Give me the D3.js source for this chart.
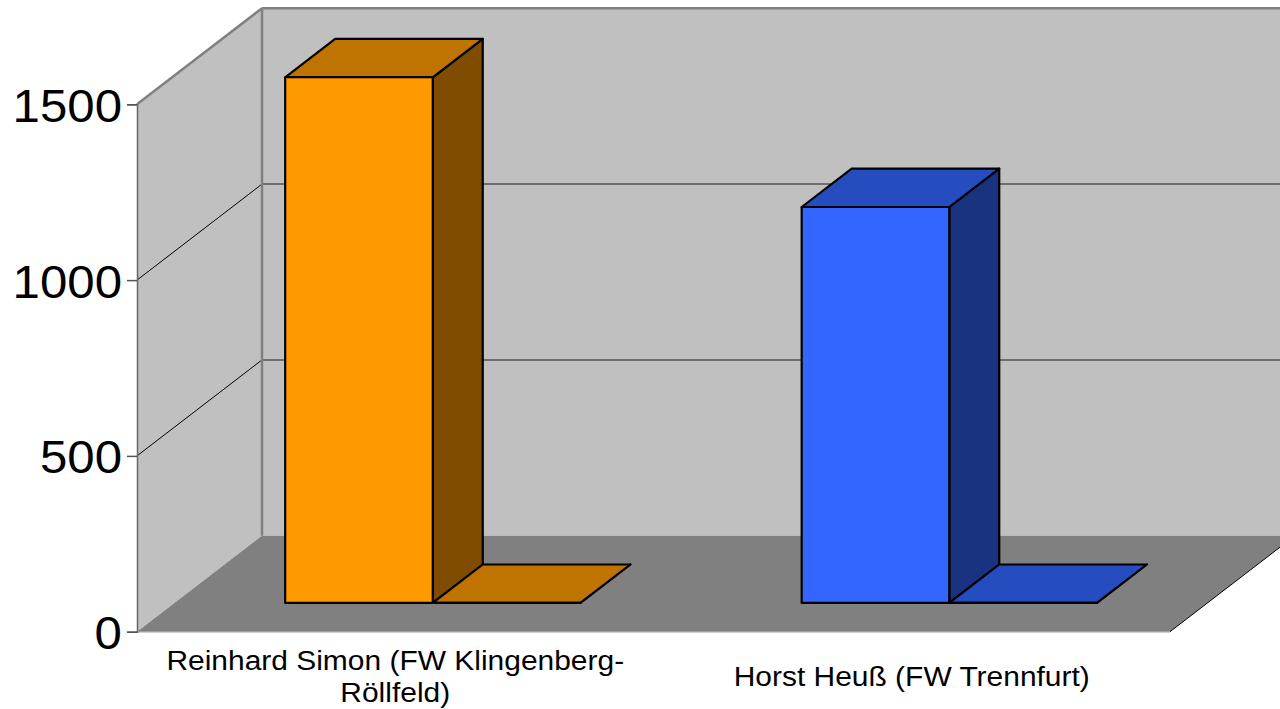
<!DOCTYPE html>
<html>
<head>
<meta charset="utf-8">
<script src="https://cdn.jsdelivr.net/npm/d3@7"></script>
<style>
  html, body { margin: 0; padding: 0; background: #ffffff; }
  svg { display: block; }
  text { font-family: "Liberation Sans", Arial, sans-serif; fill: #000; }
</style>
</head>
<body>
<svg id="chart" width="1280" height="709"></svg>
<script>
// Candidates and their vote counts (second series is empty for both)
const categories = ["Reinhard Simon (FW Klingenberg-Röllfeld)", "Horst Heuß (FW Trennfurt)"];
const seriesNames = ["Stimmen", "Reserve"];
const seriesA = [1495, 1126];
const seriesB = [0, 0];
const yTicks = [0, 500, 1000, 1500];
const frontColors = ["#FF9900", "#3366FF"];

// Layout of the oblique 3D box
const left = 137, right = 1170, floorY = 631.7, topY = 104.3;
const depthX = 125, depthY = 96;
const textStretch = 1.07;

const svg = d3.select("#chart");

const x = d3.scaleBand().domain(categories).range([left, right]);
const xSub = d3.scaleBand().domain(seriesNames).range([0, x.bandwidth()]).paddingOuter(0.75);
const y = d3.scaleLinear().domain([0, 1500]).range([floorY, topY]);
const z = d3.scaleBand().domain(["row"]).range([0, 1]).paddingOuter(0.75);

const proj = (px, py, d) => [px + d * depthX, py - d * depthY];
const poly = pts => pts.map(p => p.join(",")).join(" ");

// Walls and floor
const g = svg.append("g");
g.append("polygon")
  .attr("points", poly([proj(left, topY, 1), proj(right, topY, 1), proj(right, floorY, 1), proj(left, floorY, 1)]))
  .attr("fill", "#C0C0C0");
g.append("polygon")
  .attr("points", poly([proj(left, floorY, 0), proj(left, topY, 0), proj(left, topY, 1), proj(left, floorY, 1)]))
  .attr("fill", "#C0C0C0");
g.append("polygon")
  .attr("points", poly([proj(left, floorY, 0), proj(right, floorY, 0), proj(right, floorY, 1), proj(left, floorY, 1)]))
  .attr("fill", "#808080");

// Gridlines on back and side walls
const gridVals = yTicks.filter(v => v > 0 && v < 1500);
gridVals.forEach(v => {
  const a = proj(left, y(v), 1), b = proj(right, y(v), 1), c = proj(left, y(v), 0);
  g.append("line").attr("x1", a[0]).attr("y1", a[1]).attr("x2", b[0]).attr("y2", b[1])
    .attr("stroke", "#555").attr("stroke-width", 1.5);
  g.append("line").attr("x1", c[0]).attr("y1", c[1]).attr("x2", a[0]).attr("y2", a[1])
    .attr("stroke", "#000").attr("stroke-width", 1);
});

// Box edges
const edge = (p, q, color, w) => g.append("line")
  .attr("x1", p[0]).attr("y1", p[1]).attr("x2", q[0]).attr("y2", q[1])
  .attr("stroke", color).attr("stroke-width", w);
edge(proj(left, topY, 1), proj(right, topY, 1), "#808080", 2.5);
edge(proj(left, topY, 0), proj(left, topY, 1), "#808080", 2.5);
edge(proj(left, topY, 1), proj(left, floorY, 1), "#808080", 2.5);
edge(proj(left, floorY, 0), proj(right, floorY, 0), "#A0A0A0", 1.5);
edge(proj(right, floorY, 0), proj(right, floorY, 1), "#000", 1);

// Bars
const shade = (c, k) => { const r = d3.rgb(c); return d3.rgb(r.r * k, r.g * k, r.b * k).formatHex(); };
const bars = [];
categories.forEach((cat, i) => {
  [seriesA[i], seriesB[i]].forEach((v, s) => {
    bars.push({ cat, series: seriesNames[s], value: v, color: frontColors[i] });
  });
});
const zf = z("row"), zb = z("row") + z.bandwidth();
const barG = svg.append("g");
bars.forEach(d => {
  const xl = x(d.cat) + xSub(d.series), xr = xl + xSub.bandwidth();
  const yb = y(0), yt = y(d.value);
  const faces = [
    { pts: [proj(xr, yb, zf), proj(xr, yb, zb), proj(xr, yt, zb), proj(xr, yt, zf)], fill: shade(d.color, 0.5) },
    { pts: [proj(xl, yt, zf), proj(xr, yt, zf), proj(xr, yt, zb), proj(xl, yt, zb)], fill: shade(d.color, 0.75) },
    { pts: [proj(xl, yb, zf), proj(xr, yb, zf), proj(xr, yt, zf), proj(xl, yt, zf)], fill: d.color }
  ];
  faces.forEach(f => barG.append("polygon")
    .attr("points", poly(f.pts))
    .attr("fill", f.fill)
    .attr("stroke", "#000")
    .attr("stroke-width", 2.2)
    .attr("stroke-linejoin", "round"));
});

// Value axis
const yAxis = svg.append("g")
  .attr("transform", `translate(${left},0)`)
  .call(d3.axisLeft(y).tickValues(yTicks).tickSize(10).tickPadding(5).tickFormat(d3.format("d")));
yAxis.select(".domain").attr("stroke", "#666").attr("stroke-width", 1.5);
yAxis.selectAll(".tick line").attr("stroke", "#555").attr("stroke-width", 1.5);
yAxis.selectAll(".tick text")
  .attr("font-family", null)
  .attr("font-size", 46)
  .attr("x", -15 / textStretch)
  .attr("dy", "0.37em")
  .attr("transform", `scale(${textStretch},1)`);

// Category axis with wrapped labels
const xAxis = svg.append("g")
  .attr("transform", `translate(0,${floorY})`)
  .call(d3.axisBottom(x).tickSize(0));
xAxis.select(".domain").remove();
const lineH = 32, fontSize = 28;
xAxis.selectAll(".tick text").each(function (label) {
  const t = d3.select(this)
    .attr("font-family", null)
    .attr("font-size", fontSize)
    .attr("transform", `scale(${textStretch},1)`)
    .attr("y", 0).attr("dy", null).text(null);
  const tokens = label.match(/[^\s-]+-?|\s+/g).filter(s => s.trim().length);
  const joiners = [];
  let rest = label;
  tokens.forEach(tok => { const idx = rest.indexOf(tok); joiners.push(rest.slice(0, idx)); rest = rest.slice(idx + tok.length); });
  const maxW = x.bandwidth() / textStretch;
  const lines = [];
  let cur = "";
  const probe = t.append("tspan");
  tokens.forEach((tok, k) => {
    const cand = cur ? cur + joiners[k] + tok : tok;
    probe.text(cand);
    if (cur && probe.node().getComputedTextLength() > maxW) { lines.push(cur); cur = tok; }
    else cur = cand;
  });
  lines.push(cur);
  probe.remove();
  const firstBase = 54 - (lines.length - 1) * lineH / 2;
  lines.forEach((ln, k) => {
    t.append("tspan").attr("x", 0).attr("y", firstBase + k * lineH).text(ln);
  });
});
</script>
</body>
</html>
